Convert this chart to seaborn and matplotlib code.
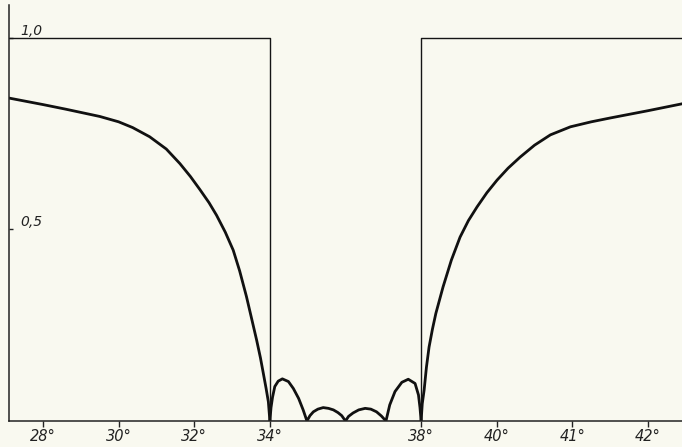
import numpy as np
import pandas as pd
import seaborn as sns
import matplotlib.pyplot as plt

# ideal response: 1 outside the band, 0 inside 34..38
ideal_x = [27.0, 34.0, 34.0, 38.0, 38.0, 45.0]
ideal_y = [1.0, 1.0, 0.0, 0.0, 1.0, 1.0]

left_x = [27.1, 28.0, 28.6, 29.5, 30.0, 30.37, 30.82, 31.26, 31.62, 31.9, 32.15, 32.39,
          32.59, 32.82, 33.03, 33.2, 33.38, 33.52, 33.65, 33.75, 33.82, 33.9, 33.96, 34.0]
left_y = [0.843, 0.826, 0.814, 0.795, 0.781, 0.766, 0.742, 0.71, 0.672, 0.638, 0.604,
          0.57, 0.537, 0.493, 0.446, 0.392, 0.325, 0.266, 0.211, 0.165, 0.128, 0.085,
          0.05, 0.0]

lobes_x = [34.0, 34.03, 34.07, 34.13, 34.22, 34.33, 34.49, 34.62, 34.76, 34.88, 34.98,
           35.06, 35.15, 35.27, 35.41, 35.55, 35.68, 35.8, 35.9, 36.0,
           36.08, 36.2, 36.35, 36.52, 36.67, 36.82, 36.95, 37.07,
           37.17, 37.31, 37.49, 37.66, 37.84, 37.93, 37.97, 38.0]
lobes_y = [0.0, 0.035, 0.062, 0.090, 0.104, 0.110, 0.103, 0.085, 0.059, 0.029, 0.0,
           0.014, 0.024, 0.031, 0.035, 0.033, 0.029, 0.022, 0.014, 0.0,
           0.012, 0.021, 0.029, 0.033, 0.031, 0.024, 0.013, 0.0,
           0.042, 0.077, 0.101, 0.109, 0.098, 0.068, 0.035, 0.0]

right_x = [38.0, 38.03, 38.08, 38.14, 38.21, 38.3, 38.39, 38.58, 38.8, 39.03, 39.25,
           39.48, 39.74, 40.01, 40.3, 40.62, 41.0, 41.42, 41.95, 42.5, 43.0, 44.0, 44.9]
right_y = [0.0, 0.045, 0.081, 0.14, 0.193, 0.24, 0.281, 0.35, 0.42, 0.48, 0.523,
           0.559, 0.596, 0.629, 0.66, 0.689, 0.72, 0.747, 0.768, 0.781, 0.791, 0.81,
           0.828]

tick_pos = [28, 30, 32, 34, 38, 40, 42, 44]
tick_labels = ["28°", "30°", "32°", "34°", "38°", "40°", "41°", "42°"]
ytick_pos = [0.5, 1.0]
ytick_labels = ["0,5", "1,0"]

paper = "#f9f9f0"
sns.set_style("white")
plt.rcParams['font.family'] = ['DejaVu Sans']

fig = plt.figure(figsize=(6.82, 4.47), dpi=100, facecolor=paper)
ax = fig.add_axes([9 / 682, 26 / 447, 673 / 682, 421 / 447])
ax.set_facecolor(paper)

# ideal rectangle, thin line
sns.lineplot(x=ideal_x, y=ideal_y, sort=False, estimator=None, color="#151515",
             linewidth=1.0, ax=ax)

# measured curve, thick line
for xs, ys in [(left_x, left_y), (lobes_x, lobes_y), (right_x, right_y)]:
    df = pd.DataFrame({"x": xs, "y": ys})
    sns.lineplot(data=df, x="x", y="y", sort=False, estimator=None, color="#111111",
                 linewidth=2.0, ax=ax)

ax.set_xlim(27.1, 44.9)
ax.set_ylim(0, 1.099)

for s in ["top", "right"]:
    ax.spines[s].set_visible(False)
for s in ["left", "bottom"]:
    ax.spines[s].set_color("#222222")
    ax.spines[s].set_linewidth(1.1)
ax.spines["left"].set_bounds(0, 1.085)

ax.set_xticks(tick_pos)
ax.set_xticklabels(tick_labels, fontsize=10.5, fontstyle="italic")
ax.tick_params(axis="x", bottom=True, direction="out", length=4, width=1, pad=1.5,
               colors="#222222")

ax.set_yticks(ytick_pos)
ax.set_yticklabels(ytick_labels, fontsize=10, fontstyle="italic")
ax.tick_params(axis="y", left=True, direction="in", length=3, width=1, pad=-8,
               colors="#222222")
for lbl in ax.get_yticklabels():
    lbl.set_horizontalalignment("left")
    lbl.set_verticalalignment("bottom")

ax.set_xlabel("")
ax.set_ylabel("")

fig.savefig("out.png", dpi=100, facecolor=paper)
